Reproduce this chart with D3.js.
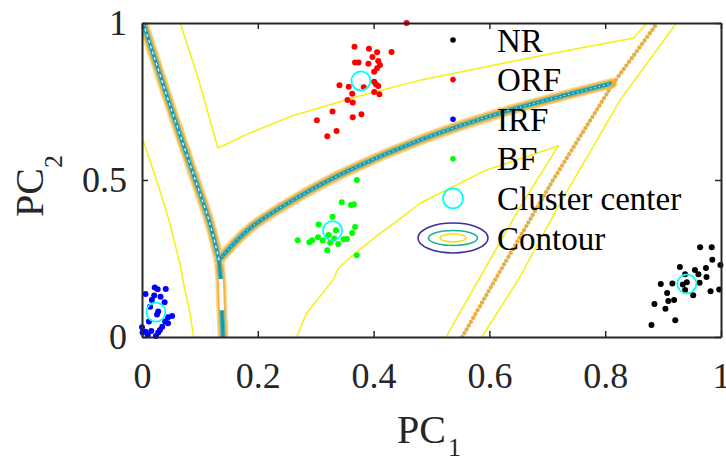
<!DOCTYPE html>
<html>
<head>
<meta charset="utf-8">
<script src="https://cdn.jsdelivr.net/npm/d3@7"></script>
<style>
  body { margin: 0; background: #fff; }
  svg text { font-family: "Liberation Serif", "Times New Roman", serif; }
</style>
</head>
<body>
<svg id="chart" width="726" height="461"></svg>
<script>
// -------------------------
// DATA (PC1, PC2)
// -------------------------
const classNames = ["NR", "ORF", "IRF", "BF"];
const classColors = ["#000000", "#ff0000", "#0000ff", "#00ff00"];

const nrPts = [[0.964,0.286],[0.984,0.286],[0.985,0.246],[0.999,0.229],[0.929,0.223],[0.955,0.213],
  [0.974,0.220],[0.961,0.200],[0.938,0.200],[0.975,0.191],[0.896,0.169],[0.916,0.170],[0.963,0.173],
  [0.934,0.167],[0.941,0.174],[0.938,0.150],[0.952,0.133],[0.982,0.146],[0.997,0.151],[0.907,0.140],
  [0.909,0.115],[0.919,0.118],[0.885,0.105],[0.904,0.090],[0.921,0.053],[0.880,0.038]];

const orfPts = [[0.457,1.000],[0.367,0.924],[0.392,0.918],[0.406,0.907],[0.431,0.908],[0.398,0.892],
  [0.408,0.879],[0.411,0.866],[0.368,0.874],[0.374,0.874],[0.391,0.870],[0.406,0.856],[0.401,0.845],
  [0.341,0.802],[0.357,0.797],[0.383,0.795],[0.401,0.813],[0.404,0.805],[0.408,0.799],[0.401,0.780],
  [0.410,0.773],[0.363,0.775],[0.355,0.755],[0.364,0.747],[0.329,0.718],[0.302,0.690],[0.364,0.700],
  [0.379,0.709],[0.336,0.656],[0.320,0.639]];

const irfPts = [[0.022,0.158],[0.027,0.152],[0.041,0.153],[0.006,0.137],[0.021,0.132],[0.032,0.128],
  [0.017,0.118],[0.039,0.111],[0.014,0.096],[0.028,0.081],[0.026,0.072],[0.052,0.067],[0.045,0.063],
  [0.012,0.049],[0.040,0.049],[0.045,0.044],[0.035,0.033],[0.000,0.031],[0.006,0.017],[0.016,0.019],
  [0.028,0.014],[0.001,0.014],[0.010,0.006],[0.024,0.003],[0.031,0.022]];

const bfPts = [[0.371,0.500],[0.345,0.429],[0.361,0.420],[0.366,0.423],[0.329,0.383],[0.305,0.358],
  [0.368,0.350],[0.335,0.340],[0.363,0.331],[0.269,0.308],[0.289,0.302],[0.294,0.308],[0.304,0.318],
  [0.312,0.307],[0.322,0.325],[0.325,0.300],[0.332,0.314],[0.339,0.296],[0.348,0.311],[0.354,0.312],
  [0.320,0.276],[0.371,0.260]];

const centers = [[0.941,0.169],[0.378,0.816],[0.024,0.079],[0.329,0.339]];

// contour traces
const ridgeLeft = [[0.002,1.0],[0.048,0.740],[0.094,0.490],[0.117,0.363],[0.133,0.245]];
const ridgeStem = [[0.133,0.245],[0.136,0.185],[0.138,0.085],[0.140,0.0]];
const ridgeBranch = [[0.133,0.245],[0.187,0.347],[0.273,0.449],[0.359,0.532],[0.480,0.627],
  [0.618,0.713],[0.812,0.808]];
const ridgeDotted = [[0.553,0.0],[0.613,0.192],[0.710,0.500],[0.814,0.808],[0.890,1.0]];

const levelTop = [[0.066,1.0],[0.098,0.818],[0.131,0.602],[0.187,0.650],[0.256,0.702],[0.371,0.765],
  [0.480,0.818],[0.595,0.861],[0.710,0.904],[0.849,0.952],[0.872,1.0]];
const levelLeft = [[0.0,0.637],[0.025,0.500],[0.036,0.436],[0.048,0.363],[0.066,0.229],[0.074,0.150],
  [0.083,0.076],[0.089,0.0]];
const levelMid = [[0.267,0.0],[0.284,0.075],[0.330,0.182],[0.339,0.219],[0.371,0.271],[0.411,0.330],
  [0.443,0.373],[0.480,0.426],[0.595,0.532],[0.664,0.574],[0.719,0.609],[0.653,0.414],[0.525,0.0]];
const levelRight = [[0.923,1.0],[0.826,0.755],[0.739,0.479],[0.725,0.436],[0.653,0.192],[0.587,0.0]];

const xTicks = [0, 0.2, 0.4, 0.6, 0.8, 1];
const yTicks = [0, 0.5, 1];
const legendLabels = ["NR", "ORF", "IRF", "BF", "Cluster center", "Contour"];

// -------------------------
// SETUP
// -------------------------
const svg = d3.select("#chart");
const ink = "#262626";
const x = d3.scaleLinear().domain([0, 1]).range([142, 721]);
const y = d3.scaleLinear().domain([0, 1]).range([337, 23]);
const line = d3.line().x(d => x(d[0])).y(d => y(d[1]));
const smooth = d3.line().x(d => x(d[0])).y(d => y(d[1])).curve(d3.curveCatmullRom.alpha(0.5));

svg.append("clipPath").attr("id", "plotClip")
  .append("rect").attr("x", x(0)).attr("y", y(1))
  .attr("width", x(1) - x(0)).attr("height", y(0) - y(1));

const plot = svg.append("g").attr("clip-path", "url(#plotClip)");

function stroke(g, pts, c, w, dash, cap, gen) {
  g.append("path").attr("d", (gen || line)(pts))
    .attr("fill", "none").attr("stroke", c).attr("stroke-width", w)
    .attr("stroke-linejoin", "round").attr("stroke-linecap", cap || "butt")
    .attr("stroke-dasharray", dash || null);
}

// -------------------------
// CONTOURS
// -------------------------
[levelTop, levelLeft, levelMid, levelRight].forEach(p => stroke(plot, p, "#f5f010", 1.5));

[ridgeLeft, ridgeStem, ridgeBranch].forEach(p => {
  stroke(plot, p, "#fbd591", 11, null, "round", smooth);
  stroke(plot, p, "#f2b445", 8, null, "round", smooth);
});
stroke(plot, ridgeStem, "#ffffff", 4, null, null, smooth);
[ridgeLeft, ridgeBranch, ridgeStem.slice(0, 2), ridgeStem.slice(2)].forEach(p => {
  stroke(plot, p, "#52bcb4", 5, null, null, smooth);
  stroke(plot, p, "#1f95a8", 3, null, null, smooth);
});
stroke(plot, ridgeLeft, "#ffffff", 1.2, "3 3", null, smooth);
stroke(plot, ridgeBranch, "#d8f0f8", 1, "1.5 3", null, smooth);

stroke(plot, ridgeDotted, "#f0ab38", 4.2, "0.01 4.4", "round");
stroke(plot, ridgeDotted, "#8fcfc0", 1.2, "0.01 4.4", "round");

// -------------------------
// SCATTER + CENTERS
// -------------------------
[nrPts, orfPts, irfPts, bfPts].forEach((pts, i) => {
  svg.append("g").selectAll("circle").data(pts).join("circle")
    .attr("cx", d => x(d[0])).attr("cy", d => y(d[1]))
    .attr("r", 3).attr("fill", classColors[i]);
});

svg.append("g").selectAll("circle").data(centers).join("circle")
  .attr("cx", d => x(d[0])).attr("cy", d => y(d[1]))
  .attr("r", 9.5).attr("fill", "none").attr("stroke", "#00ffff").attr("stroke-width", 1.8);

// -------------------------
// AXES
// -------------------------
const fmt = d => String(d);
function styleAxis(g) {
  g.select(".domain").attr("stroke", ink).attr("stroke-width", 2);
  g.selectAll(".tick line").attr("stroke", ink).attr("stroke-width", 1.5);
  g.selectAll(".tick text").attr("fill", ink).style("font-size", "36px")
    .style("font-family", "'Liberation Serif','Times New Roman',serif");
}

svg.append("g").attr("transform", `translate(0,${y(0)})`)
  .call(d3.axisBottom(x).tickValues(xTicks).tickFormat(fmt).tickSize(-6).tickSizeOuter(0).tickPadding(25))
  .call(styleAxis);
svg.append("g").attr("transform", `translate(0,${y(1)})`)
  .call(d3.axisTop(x).tickValues(xTicks).tickFormat("").tickSize(-6).tickSizeOuter(0))
  .call(styleAxis);
svg.append("g").attr("transform", `translate(${x(0)},0)`)
  .call(d3.axisLeft(y).tickValues(yTicks).tickFormat(fmt).tickSize(-6).tickSizeOuter(0).tickPadding(15))
  .call(styleAxis);
svg.append("g").attr("transform", `translate(${x(1)},0)`)
  .call(d3.axisRight(y).tickValues(yTicks).tickFormat("").tickSize(-6).tickSizeOuter(0))
  .call(styleAxis);

// axis titles
const xt = svg.append("text").attr("x", 429).attr("y", 443)
  .attr("text-anchor", "middle").attr("fill", ink).style("font-size", "40px");
xt.append("tspan").text("PC");
xt.append("tspan").attr("dx", 2).attr("dy", 13).style("font-size", "26px").text("1");

const yt = svg.append("text").attr("transform", "translate(43,186) rotate(-90)")
  .attr("text-anchor", "middle").attr("fill", ink).style("font-size", "40px");
yt.append("tspan").text("PC");
yt.append("tspan").attr("dy", 19).style("font-size", "26px").text("2");

// -------------------------
// LEGEND
// -------------------------
const legend = svg.append("g").attr("transform", "translate(453,40)");
const rowH = 39.6;
legendLabels.forEach((t, i) => {
  legend.append("text").attr("x", 44).attr("y", i * rowH + 11.5)
    .attr("fill", "#000").style("font-size", "33px").text(t);
});
classColors.forEach((c, i) => {
  legend.append("circle").attr("cx", 0).attr("cy", i * rowH).attr("r", 2.8).attr("fill", c);
});
legend.append("circle").attr("cx", 0).attr("cy", 4 * rowH).attr("r", 10)
  .attr("fill", "none").attr("stroke", "#00ffff").attr("stroke-width", 1.8);
[[35, 15, "#3d2f9c"], [24.5, 7.5, "#20ae9c"], [13, 4, "#eee21c"]].forEach(e => {
  legend.append("ellipse").attr("cx", 0).attr("cy", 5 * rowH).attr("rx", e[0]).attr("ry", e[1])
    .attr("fill", "none").attr("stroke", e[2]).attr("stroke-width", 1.6);
});
</script>
</body>
</html>
